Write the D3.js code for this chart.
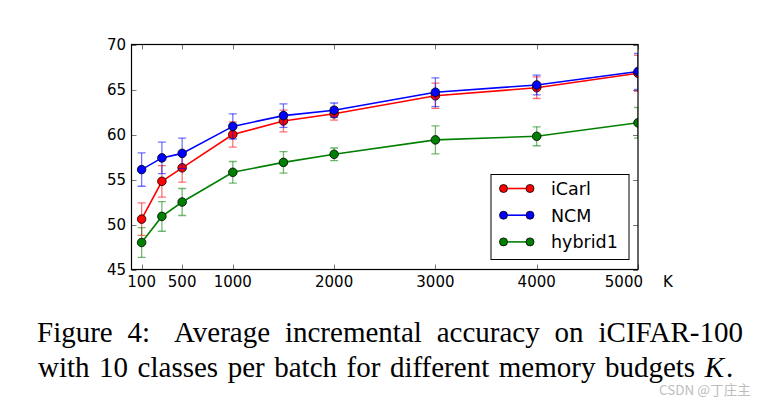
<!DOCTYPE html>
<html>
<head>
<meta charset="utf-8">
<script src="https://cdn.jsdelivr.net/npm/d3@7"></script>
<style>
  html, body { margin: 0; padding: 0; background: #fff; }
  svg { display: block; }
</style>
</head>
<body>
<svg id="chart" width="773" height="403"></svg>
<script>
// ---- data ----
const memoryK = [100, 300, 500, 1000, 1500, 2000, 3000, 4000, 5000];
const icarlAcc = [50.6, 54.8, 56.3, 60.0, 61.5, 62.3, 64.3, 65.2, 66.8];
const icarlErr = [1.8, 1.75, 1.6, 1.4, 1.2, 0.7, 1.4, 1.2, 2.0];
const ncmAcc = [56.1, 57.4, 57.9, 60.9, 62.1, 62.7, 64.7, 65.5, 67.0];
const ncmErr = [1.85, 1.75, 1.7, 1.4, 1.3, 0.8, 1.6, 1.1, 2.0];
const hybridAcc = [48.0, 50.9, 52.5, 55.8, 56.9, 57.8, 59.4, 59.8, 61.3];
const hybridErr = [1.65, 1.65, 1.5, 1.2, 1.2, 0.7, 1.55, 1.05, 1.7];
const seriesNames = ["iCarl", "NCM", "hybrid1"];
const seriesColors = ["#ff0000", "#0000ff", "#008000"];
const xTicks = [100, 500, 1000, 2000, 3000, 4000, 5000];
const yTicks = [45, 50, 55, 60, 65, 70];
const captionLine1 = "Figure 4:  Average incremental accuracy on iCIFAR-100";
const captionLine2 = "with 10 classes per batch for different memory budgets";

const series = [
  { name: seriesNames[0], color: seriesColors[0], acc: icarlAcc, err: icarlErr },
  { name: seriesNames[1], color: seriesColors[1], acc: ncmAcc, err: ncmErr },
  { name: seriesNames[2], color: seriesColors[2], acc: hybridAcc, err: hybridErr }
];

const svg = d3.select("#chart");
const L = 131.5, R = 638, T = 44.5, B = 269.5;
const x = d3.scaleLinear().domain([0, 5000]).range([L, R]);
const y = d3.scaleLinear().domain([45, 70]).range([B, T]);

svg.append("defs").append("clipPath").attr("id", "clip")
  .append("rect").attr("x", L).attr("y", T).attr("width", R - L).attr("height", B - T);

const tickFont = "DejaVu Sans, sans-serif";

// ticks (inward, all four sides)
const tickG = svg.append("g").attr("stroke", "#777").attr("stroke-width", 1);
xTicks.forEach(v => {
  const px = Math.round(x(v)) + 0.5;
  tickG.append("line").attr("x1", px).attr("x2", px).attr("y1", B).attr("y2", B - 5);
  tickG.append("line").attr("x1", px).attr("x2", px).attr("y1", T).attr("y2", T + 5);
});
yTicks.forEach(v => {
  const py = Math.round(y(v)) + 0.5;
  tickG.append("line").attr("x1", L).attr("x2", L + 5).attr("y1", py).attr("y2", py);
  tickG.append("line").attr("x1", R).attr("x2", R - 5).attr("y1", py).attr("y2", py);
});

// tick labels
svg.append("g").selectAll("text").data(xTicks).join("text")
  .attr("x", d => d === 5000 ? x(d) + 5 : x(d)).attr("y", 287)
  .attr("text-anchor", d => d === 5000 ? "end" : "middle")
  .attr("font-family", tickFont).attr("font-size", 15).attr("fill", "#000")
  .text(d => d);
svg.append("g").selectAll("text").data(yTicks).join("text")
  .attr("x", 126).attr("y", d => y(d) + 5.5)
  .attr("text-anchor", "end")
  .attr("font-family", tickFont).attr("font-size", 15).attr("fill", "#000")
  .text(d => d);
svg.append("text").attr("x", 668).attr("y", 287).attr("text-anchor", "middle")
  .attr("font-family", tickFont).attr("font-size", 15).text("K");

// series
const plot = svg.append("g").attr("clip-path", "url(#clip)");
const line = d3.line().x((d, i) => x(memoryK[i])).y(d => y(d));
series.forEach(s => {
  const g = plot.append("g");
  const eb = g.append("g").attr("stroke", s.color).attr("stroke-opacity", 0.55).attr("stroke-width", 1.3);
  s.acc.forEach((v, i) => {
    const cx = x(memoryK[i]);
    eb.append("line").attr("x1", cx).attr("x2", cx).attr("y1", y(v - s.err[i])).attr("y2", y(v + s.err[i]));
    eb.append("line").attr("x1", cx - 4).attr("x2", cx + 4).attr("y1", y(v - s.err[i])).attr("y2", y(v - s.err[i]));
    eb.append("line").attr("x1", cx - 4).attr("x2", cx + 4).attr("y1", y(v + s.err[i])).attr("y2", y(v + s.err[i]));
  });
  g.append("path").datum(s.acc).attr("d", line)
    .attr("fill", "none").attr("stroke", s.color).attr("stroke-width", 1.6);
  g.selectAll("circle").data(s.acc).join("circle")
    .attr("cx", (d, i) => x(memoryK[i])).attr("cy", d => y(d)).attr("r", 4.3)
    .attr("fill", s.color).attr("stroke", "#000").attr("stroke-width", 0.8);
});

// frame
svg.append("rect").attr("x", L).attr("y", T).attr("width", R - L).attr("height", B - T)
  .attr("fill", "none").attr("stroke", "#000").attr("stroke-width", 1.2);

// legend
const lg = svg.append("g");
lg.append("rect").attr("x", 491).attr("y", 174.5).attr("width", 138).attr("height", 85)
  .attr("fill", "#fff").attr("stroke", "#000").attr("stroke-width", 1);
series.forEach((s, i) => {
  const ly = 188.5 + i * 26.7;
  lg.append("line").attr("x1", 503.5).attr("x2", 530).attr("y1", ly).attr("y2", ly)
    .attr("stroke", s.color).attr("stroke-width", 1.6);
  [503.5, 530].forEach(cx => lg.append("circle").attr("cx", cx).attr("cy", ly).attr("r", 4)
    .attr("fill", s.color).attr("stroke", "#000").attr("stroke-width", 0.8));
  lg.append("text").attr("x", 551).attr("y", ly + 6.3)
    .attr("font-family", tickFont).attr("font-size", 17.5).text(s.name);
});

// caption (justified)
const capFont = "Liberation Serif, Times New Roman, serif";
const capSize = 29;
function justify(words, x0, x1, baseline) {
  const g = svg.append("g");
  const nodes = words.map(w => {
    const t = g.append("text").attr("y", baseline)
      .attr("font-family", capFont).attr("font-size", capSize).attr("fill", "#000");
    if (w.italic) t.attr("font-style", "italic");
    t.text(w.text);
    return t;
  });
  const widths = nodes.map(n => n.node().getComputedTextLength());
  const gaps = words.map(w => w.gap || 1);
  const total = d3.sum(widths);
  const gapUnits = d3.sum(gaps.slice(1));
  const unit = (x1 - x0 - total) / gapUnits;
  let cx = x0;
  nodes.forEach((n, i) => {
    if (i > 0) cx += unit * gaps[i];
    n.attr("x", cx);
    cx += widths[i];
  });
}
const w1 = captionLine1.split(/\s+/).map((t, i) => ({ text: t, gap: i === 2 ? 1.6 : 1 }));
justify(w1, 37, 743, 342);
const w2 = captionLine2.split(/\s+/).map(t => ({ text: t }));
w2.push({ text: "K", italic: true });
justify(w2, 38, 724, 377);
svg.append("text").attr("x", 726).attr("y", 377)
  .attr("font-family", capFont).attr("font-size", capSize).text(".");

// watermark
svg.append("text").attr("x", 659).attr("y", 395)
  .attr("font-family", "Noto Sans CJK SC, Noto Sans, sans-serif").attr("font-size", 13.5)
  .attr("fill", "#bdbdbd").text("CSDN @丁庄主");
</script>
</body>
</html>
